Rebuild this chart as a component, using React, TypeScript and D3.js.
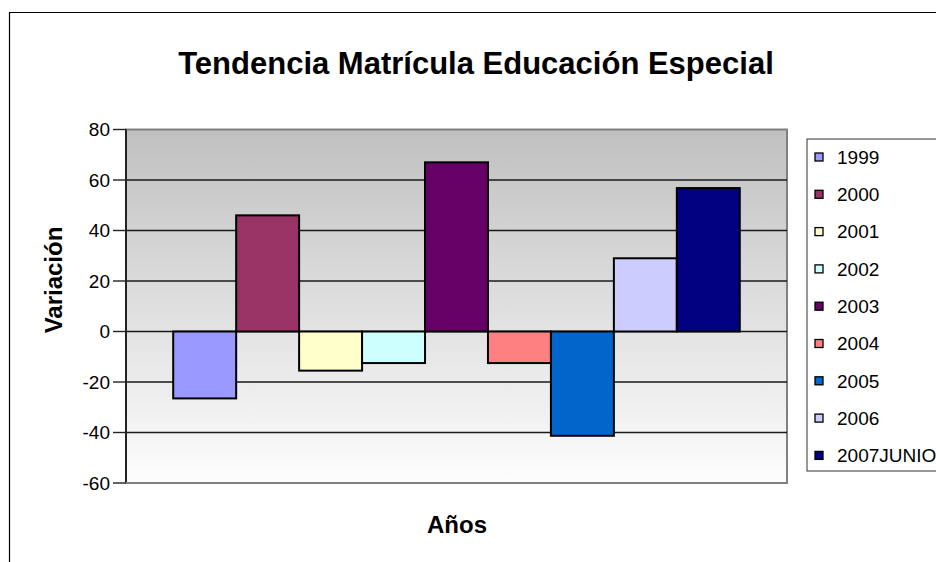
import React from "react";
import * as d3 from "d3";

const seriesNames = ["1999", "2000", "2001", "2002", "2003", "2004", "2005", "2006", "2007JUNIO"];
const seriesValues = [-26.5, 46, -15.5, -12.5, 67, -12.5, -41.3, 29, 56.8];
const seriesColors = ["#9999FF", "#993366", "#FFFFCC", "#CCFFFF", "#660066", "#FF8080", "#0066CC", "#CCCCFF", "#000080"];
const yTicks = [-60, -40, -20, 0, 20, 40, 60, 80];

const W = 936;
const H = 562;
const plot = { left: 126, right: 787, top: 129.5, bottom: 483 };
const FONT = "'Liberation Sans', Arial, sans-serif";

export default function App() {
  const y = d3.scaleLinear().domain([-60, 80]).range([plot.bottom, plot.top]);
  const outer = d3.scaleBand().domain(["cat"]).range([plot.left, plot.right]).paddingInner(0).paddingOuter(0);
  const catW = outer.bandwidth();
  const barW = catW / 10.5;
  const x = d3
    .scaleBand()
    .domain(seriesNames)
    .range([plot.left + barW * 0.75, plot.left + barW * 0.75 + barW * 9])
    .padding(0);

  const legendX = 807;
  const legendTop = 139;
  const legendBottom = 471;
  const legendStep = 37.3;
  const legendFirst = 157;

  return (
    <svg
      width={W}
      height={H}
      style={{ position: "absolute", left: 0, top: 0, background: "#fff" }}
      fontFamily={FONT}
    >
      <defs>
        <linearGradient id="bg" x1="0" y1="0" x2="0" y2="1">
          <stop offset="0" stopColor="#c0c0c0" />
          <stop offset="1" stopColor="#fdfdfd" />
        </linearGradient>
      </defs>
      {/* chart area border */}
      <path d={`M9.5,${H} V12.5 H${W}`} fill="none" stroke="#000" strokeWidth={1.2} />

      {/* title */}
      <text x={476} y={74} textAnchor="middle" fontSize={31} fontWeight="bold" fill="#000">
        Tendencia Matrícula Educación Especial
      </text>

      {/* plot area */}
      <rect
        x={plot.left}
        y={plot.top}
        width={plot.right - plot.left}
        height={plot.bottom - plot.top}
        fill="url(#bg)"
        stroke="#808080"
        strokeWidth={2}
      />
      {yTicks
        .filter((t) => t !== -60 && t !== 80)
        .map((t) => (
          <line
            key={t}
            x1={plot.left}
            x2={plot.right}
            y1={y(t)}
            y2={y(t)}
            stroke="#1a1a1a"
            strokeWidth={1.4}
          />
        ))}

      {/* bars */}
      {seriesNames.map((s, i) => {
        const v = seriesValues[i];
        const y0 = y(Math.max(0, v));
        const y1 = y(Math.min(0, v));
        return (
          <rect
            key={s}
            x={x(s)}
            y={y0}
            width={x.bandwidth()}
            height={y1 - y0}
            fill={seriesColors[i]}
            stroke="#000"
            strokeWidth={2}
          />
        );
      })}

      {/* axes */}
      <line x1={plot.left} x2={plot.left} y1={plot.top} y2={plot.bottom} stroke="#222" strokeWidth={2} />
      <line x1={plot.left - 1} x2={plot.right} y1={plot.bottom} y2={plot.bottom} stroke="#808080" strokeWidth={2} />
      {yTicks.map((t) => (
        <g key={t}>
          <line x1={plot.left - 13} x2={plot.left} y1={y(t)} y2={y(t)} stroke="#222" strokeWidth={1.4} />
          <text x={110} y={y(t)} dy="0.36em" textAnchor="end" fontSize={19} fill="#000">
            {t}
          </text>
        </g>
      ))}

      {/* axis titles */}
      <text
        transform={`translate(62,280) rotate(-90)`}
        textAnchor="middle"
        fontSize={24}
        fontWeight="bold"
        fill="#000"
      >
        Variación
      </text>
      <text x={457} y={533} textAnchor="middle" fontSize={24} fontWeight="bold" fill="#000">
        Años
      </text>

      {/* legend */}
      <rect
        x={legendX}
        y={legendTop}
        width={W - legendX + 10}
        height={legendBottom - legendTop}
        fill="#fff"
        stroke="#333"
        strokeWidth={1}
      />
      {seriesNames.map((s, i) => {
        const cy = legendFirst + i * legendStep;
        return (
          <g key={s}>
            <rect x={815} y={cy - 4} width={8} height={8} fill={seriesColors[i]} stroke="#000" strokeWidth={1.3} />
            <text x={837} y={cy} dy="0.36em" fontSize={19} fill="#000">
              {s}
            </text>
          </g>
        );
      })}
    </svg>
  );
}
